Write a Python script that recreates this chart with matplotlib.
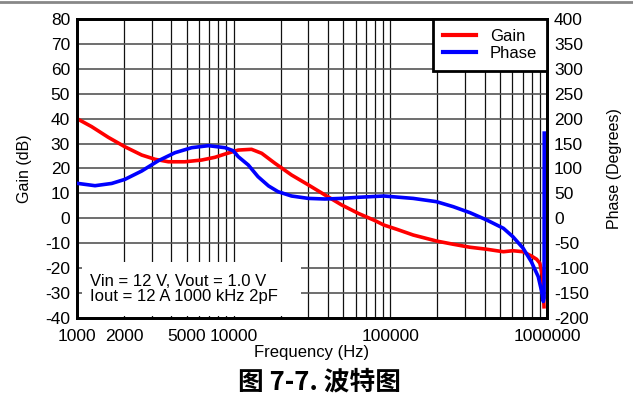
import matplotlib
matplotlib.use("Agg")
import matplotlib.pyplot as plt
from matplotlib.patches import Rectangle
from matplotlib.lines import Line2D

plt.rcParams['font.family'] = ['Liberation Sans', 'Noto Sans CJK SC', 'DejaVu Sans']
plt.rcParams['axes.unicode_minus'] = False

gain_freq = [1000, 1240, 1585, 2025, 2590, 3150, 3830, 4890, 6250, 7600, 8800,
             10700, 13000, 15100, 18340, 23400, 30000, 38200, 48800, 62400,
             79700, 91000, 110000, 140000, 197000, 252000, 322000, 412000,
             476000, 527000, 606000, 704000, 794000, 858000, 900000, 938000, 957000]
gain_db = [40.0, 36.8, 32.5, 28.7, 25.4, 23.7, 22.7, 22.7, 23.4, 24.5, 25.8,
           27.4, 27.7, 26.1, 22.1, 17.4, 13.4, 9.4, 5.4, 2.0,
           -0.9, -2.7, -4.4, -6.7, -9.1, -10.4, -11.6, -12.4,
           -13.0, -13.4, -13.0, -13.4, -15.1, -16.4, -18.0, -23.4, -35.5]

phase_freq = [1000, 1303, 1666, 2025, 2590, 3310, 4220, 5400, 6890, 8800, 9930,
              10700, 12400, 14300, 16700, 19200, 23400, 30000, 38200, 48800,
              62400, 91000, 140000, 197000, 252000, 322000, 412000, 527000,
              606000, 704000, 794000, 879000, 925000, 947000, 958000, 960000]
phase_deg = [70.3, 65.5, 70.0, 78.3, 95.0, 115.7, 131.7, 141.8, 145.8, 141.8, 135.7,
             123.7, 107.0, 83.6, 65.0, 53.5, 44.8, 40.0, 38.8, 40.0,
             42.2, 44.8, 40.0, 33.4, 23.4, 11.4, -3.3, -20.0,
             -36.9, -60.0, -87.0, -117.0, -147.0, -167.0, -160.0, 171.0]

xtick_vals = [1000, 2000, 5000, 10000, 100000, 1000000]
xtick_labels = ['1000', '2000', '5000', '10000', '100000', '1000000']
gain_ticks = list(range(-40, 81, 10))
phase_ticks = list(range(-200, 401, 50))

fig = plt.figure(figsize=(6.33, 3.94), dpi=100)
ax = fig.add_axes([77/633, 1-318/394, 470/633, 299/394])
ax2 = ax.twinx()

ax.set_xscale('log')
ax.set_xlim(1000, 1000000)
ax.set_ylim(-40, 80)
ax2.set_ylim(-200, 400)

# grid
minor = []
for dec in [1000, 10000, 100000]:
    for m in range(1, 10):
        minor.append(dec * m)
for f in minor[1:]:
    ax.axvline(f, color='#111111', lw=0.9, zorder=1)
for g in gain_ticks[1:-1]:
    ax.axhline(g, color='#555555', lw=1.2, zorder=1)

ax.set_xticks(xtick_vals)
ax.set_xticklabels(xtick_labels)
ax.xaxis.set_minor_locator(matplotlib.ticker.NullLocator())
ax.set_yticks(gain_ticks)
ax2.set_yticks(phase_ticks)
ax.tick_params(axis='y', labelsize=12.5, length=0, pad=5)
ax.tick_params(axis='x', labelsize=12.5, length=0, pad=8)
ax2.tick_params(axis='y', labelsize=12.5, length=0, pad=5)

for sp in list(ax.spines.values()) + list(ax2.spines.values()):
    sp.set_linewidth(2)
    sp.set_color('black')

# annotation box (white background)
ax.add_patch(Rectangle((5/470, 2/299), (301-82)/470, (318-262-2)/299,
                       transform=ax.transAxes, facecolor='white', edgecolor='none', zorder=2))
ax.text(13/470, (318-289)/299, 'Vin = 12 V, Vout = 1.0 V\nIout = 12 A 1000 kHz 2pF',
        transform=ax.transAxes, fontsize=12, va='center', ha='left', linespacing=1.0, zorder=3)

ax.plot(gain_freq, gain_db, color='#ff0000', lw=2.6, zorder=4, solid_joinstyle='round')
ax2.plot(phase_freq, phase_deg, color='#0000ff', lw=2.6, zorder=4, solid_joinstyle='round')

ax.set_ylabel('Gain (dB)', fontsize=11.5, labelpad=9)
ax2.set_ylabel('Phase (Degrees)', fontsize=11.5, labelpad=13)
ax.set_xlabel('Frequency (Hz)', fontsize=12, labelpad=1)

handles = [Line2D([], [], color='#ff0000', lw=3), Line2D([], [], color='#0000ff', lw=3)]
leg = ax2.legend(handles, ['Gain', 'Phase'], loc='upper right', bbox_to_anchor=(1.0, 1.0),
                 fontsize=12, frameon=True, fancybox=False, borderaxespad=0,
                 handlelength=2.0, handletextpad=0.8, labelspacing=0.12,
                 borderpad=0.6, framealpha=1)
leg.get_frame().set_edgecolor('black')
leg.get_frame().set_linewidth(2)
leg.set_zorder(10)

fig.add_artist(Line2D([0, 1], [1-2/394, 1-2/394], color='#888888', lw=2, transform=fig.transFigure))
fig.text(320/633, 1-382/394, '图 7-7. 波特图', fontsize=18.5, fontweight='bold',
         ha='center', va='center', family=['Noto Sans CJK SC', 'DejaVu Sans'])

fig.savefig('out.png', dpi=100)
